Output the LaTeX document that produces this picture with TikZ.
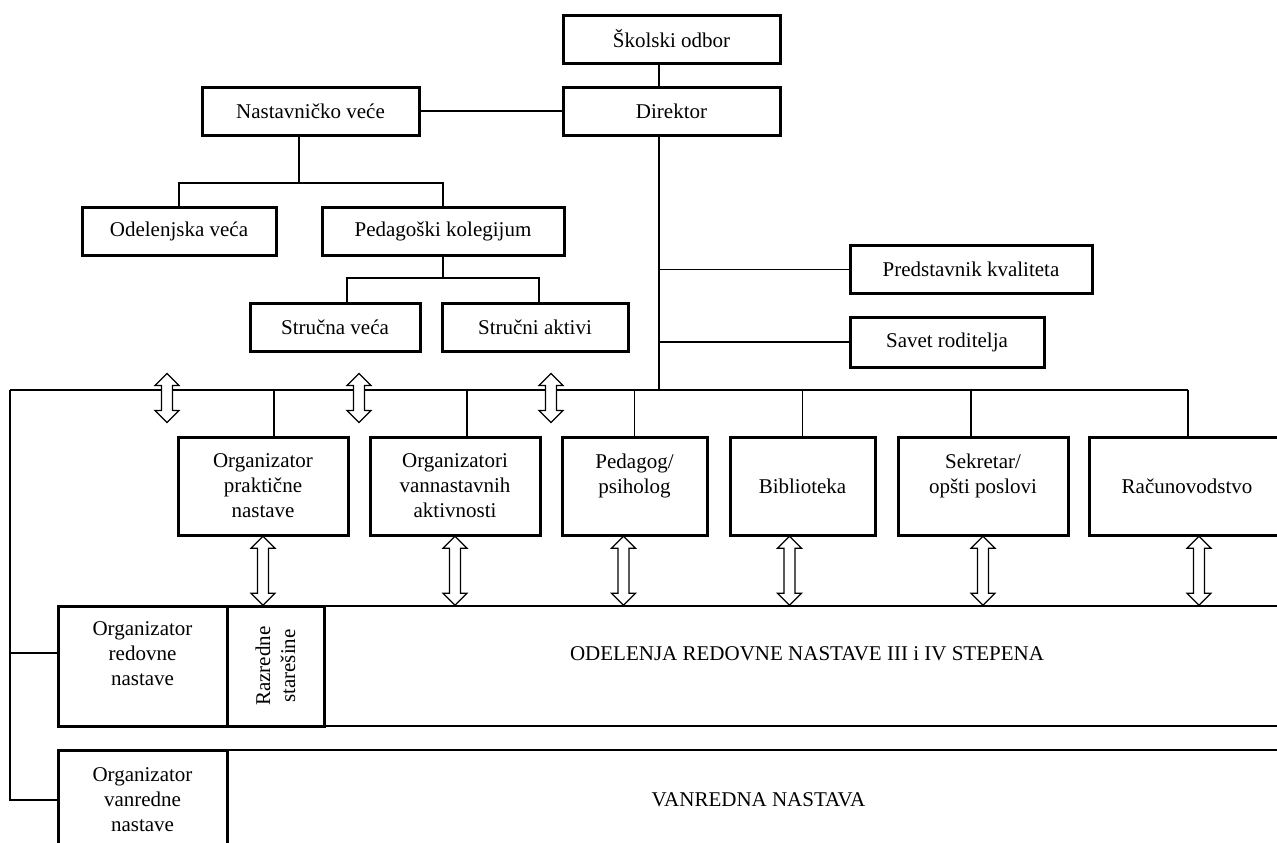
\documentclass[tikz,border=0pt]{standalone}
\usepackage{fontspec}
\setmainfont{Liberation Serif}
\usetikzlibrary{calc,positioning}
\tikzstyle{unit} = [rectangle, draw, line width=1.5pt, align=center,
    inner sep=2pt, minimum height=24pt, font=\fontsize{10.5}{12.5}\selectfont]
\tikzstyle{dept} = [unit, minimum height=49pt]
\tikzstyle{strip} = [rectangle, draw, line width=1pt, align=center,
    font=\fontsize{10.5}{12.5}\selectfont]
\tikzstyle{wire} = [line width=0.8pt]
\tikzset{pics/dbl/.style={code={
  \draw[fill=white, line width=0.6pt] (0,-#1/2) -- (12,-#1/2+12) -- (5.5,-#1/2+12)
    -- (5.5,#1/2-12) -- (12,#1/2-12) -- (0,#1/2) -- (-12,#1/2-12) -- (-5.5,#1/2-12)
    -- (-5.5,-#1/2+12) -- (-12,-#1/2+12) -- cycle;
}}}

\begin{document}
\begin{tikzpicture}[x=0.5pt, y=-0.5pt]
  \useasboundingbox (0,0) rectangle (1277,842);
  \clip (0,0) rectangle (1277,842);

  % upper part
  \node[unit, minimum width=108.5pt] (so) at (671.5,39) {Školski odbor};
  \node[unit, minimum width=108.5pt] (dir) at (671.5,111) {Direktor};
  \node[unit, minimum width=108.5pt] (nv) at (310.5,111) {Nastavničko veće};
  \node[unit, minimum width=97pt] (ov) at (179,231) {Odelenjska veća};
  \node[unit, minimum width=121pt] (pk) at (443,231) {Pedagoški kolegijum};
  \node[unit, minimum width=85pt] (sv) at (335,327.5) {Stručna veća};
  \node[unit, minimum width=93pt] (sa) at (535,327.5) {Stručni aktivi};
  \node[unit, minimum width=121pt] (pkv) at (971,269.5) {Predstavnik kvaliteta};
  \node[unit, minimum width=97pt, minimum height=25pt] (sr) at (947,342) {Savet roditelja};

  % services
  \node[dept, minimum width=85pt] (opn) at (263,486) {Organizator\\praktične\\nastave};
  \node[dept, minimum width=85pt] (ova) at (455,486) {Organizatori\\vannastavnih\\aktivnosti};
  \node[dept, minimum width=72.5pt] (pp) at (634.5,486) {Pedagog/\\psiholog\\\mbox{}};
  \node[dept, minimum width=72.5pt] (bib) at (802.5,486) {Biblioteka};
  \node[dept, minimum width=85pt] (sek) at (983,486) {Sekretar/\\opšti poslovi\\\mbox{}};
  \node[dept, minimum width=98pt] (rac) at (1187,486) {Računovodstvo};

  % classes
  \node[strip, minimum width=483pt, minimum height=60pt] (odr) at (807,666)
    {ODELENJA REDOVNE NASTAVE III i IV STEPENA\\\mbox{}};
  \node[strip, minimum width=531.5pt, minimum height=50pt] (vn) at (758.5,800)
    {VANREDNA NASTAVA};
  \node[unit, minimum width=84.5pt, minimum height=60pt] (orn) at (142.5,666)
    {Organizator\\redovne\\nastave\\\mbox{}};
  \node[unit, rotate=90, minimum width=60pt, minimum height=48.5pt] (rs) at (275.5,666)
    {Razredne\\starešine};
  \node[unit, minimum width=84.5pt, minimum height=50pt] (ovn) at (142.5,800)
    {Organizator\\vanredne\\nastave};

  % lines
  \coordinate (trunk) at (659,390);
  \coordinate (bl) at (10,390);
  \coordinate (br) at (1188,390);
  \coordinate (nvj) at (299,183);
  \coordinate (pkj) at (443,278);
  \draw[wire] (so.south -| trunk) -- (dir.north -| trunk);
  \draw[wire] (dir.south -| trunk) -- (trunk);
  \draw[wire] (nv) -- (dir);
  \draw[wire] (nv.south -| nvj) -- (nvj);
  \draw[wire] (ov.north) |- (nvj) -| (pk.north);
  \draw[wire] (pk.south) -- (pkj);
  \draw[wire] ($(sv.north)+(12,0)$) |- (pkj) -| ($(sa.north)+(4,0)$);
  \draw[wire] (pkv.west -| trunk) -- (pkv.west);
  \draw[wire] (sr.west -| trunk) -- (sr.west);
  \draw[wire] (bl) -- (br);
  \foreach \n/\d in {opn/11, ova/12, pp/0, bib/0, sek/-12, rac/1}
    \draw[wire] ($(\n.north)+(\d,0)$) coordinate (t) -- (t |- bl);
  \draw[wire] (bl) |- (ovn.west);
  \draw[wire] ($(orn.west)+(0,-13)$) coordinate (oj) -- (oj -| bl);

  % two-way arrows
  \foreach \x in {167,359,551}
    \pic at (\x,398) {dbl=49};
  \foreach \n/\d in {opn/0, ova/0, pp/-11, bib/-13, sek/0, rac/12}
    \pic at ($(\n.south)!.5!(\n.south |- odr.north)+(\d,0)$) {dbl=69};
\end{tikzpicture}
\end{document}
